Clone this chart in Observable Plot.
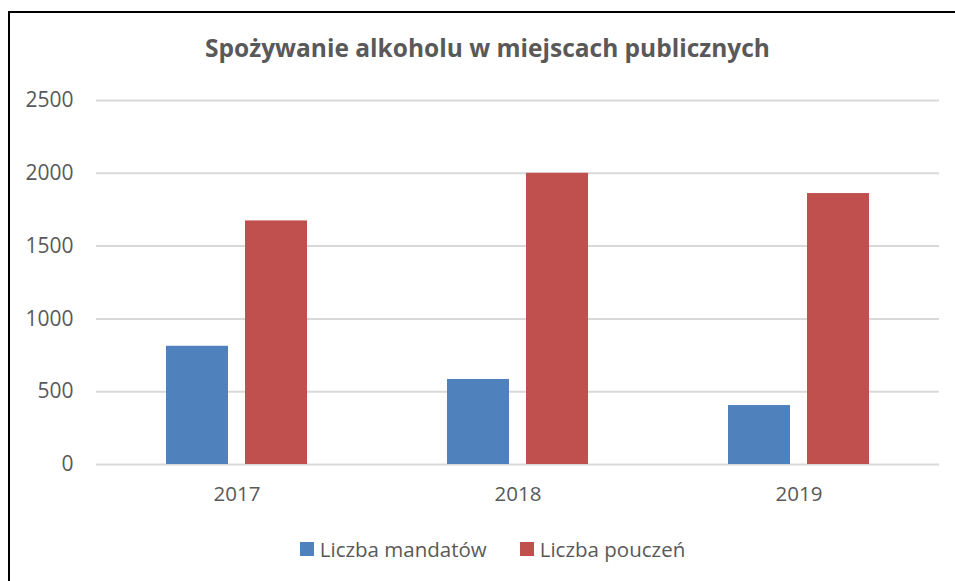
<!DOCTYPE html>
<html>
<head>
<meta charset="utf-8">
<script src="https://cdn.jsdelivr.net/npm/d3@7"></script>
<script src="https://cdn.jsdelivr.net/npm/@observablehq/plot@0.6"></script>
<style>
  html, body { margin: 0; padding: 0; background: #fff; }
  #wrap { position: relative; width: 955px; height: 581px; overflow: hidden; font-family: "Open Sans", sans-serif; color: #595959; }
  #frame { position: absolute; left: 8px; top: 11px; width: 1000px; height: 700px; border-left: 2px solid #000; border-top: 2px solid #000; box-sizing: border-box; }
  #title { position: absolute; top: 33px; left: 0; width: 975px; text-align: center; font-size: 24.5px; line-height: 30px; font-weight: bold; color: #595959; }
  #chart { position: absolute; left: 0; top: 0; }
  #legend { position: absolute; top: 534px; left: 0; width: 985px; display: flex; justify-content: center; gap: 33px; font-size: 20.5px; line-height: 30px; color: #595959; }
  .item { display: flex; align-items: center; gap: 6px; }
  .sw { width: 14px; height: 14px; display: inline-block; }
</style>
</head>
<body>
<div id="wrap">
  <div id="frame"></div>
  <div id="chart"></div>
  <div id="title">Spożywanie alkoholu w miejscach publicznych</div>
  <div id="legend"></div>
</div>
<script>
const years = ["2017", "2018", "2019"];
const series = ["Liczba mandatów", "Liczba pouczeń"];
const mandaty = [812, 584, 405];
const pouczenia = [1673, 2000, 1861];
const yTicks = [0, 500, 1000, 1500, 2000, 2500];
const colors = ["#4f81bd", "#c0504d"];

const data = [];
years.forEach((y, i) => {
  data.push({year: y, series: series[0], value: mandaty[i]});
  data.push({year: y, series: series[1], value: pouczenia[i]});
});

const chart = Plot.plot({
  width: 955,
  height: 520,
  marginTop: 100,
  marginBottom: 56,
  marginLeft: 96,
  marginRight: 16,
  style: {fontFamily: "'Open Sans', sans-serif", fontSize: "20px", color: "#595959", background: "transparent"},
  fx: {domain: years, paddingInner: 0, paddingOuter: 0, label: null, axis: null},
  x: {domain: series, paddingInner: 0.214, paddingOuter: 0.875, axis: null},
  y: {domain: [0, 2500], ticks: yTicks, label: null, axis: null},
  color: {domain: series, range: colors},
  marks: [
    Plot.gridY(yTicks, {stroke: "#d9d9d9", strokeOpacity: 1, strokeWidth: 2}),
    Plot.axisY(yTicks, {tickSize: 0, tickPadding: 23, label: null, fontSize: 21, fill: "#595959", tickFormat: d => String(d)}),
    Plot.axisFx({anchor: "bottom", tickSize: 0, tickPadding: 22, label: null, fontSize: 20.5, fill: "#595959"}),
    Plot.barY(data, {fx: "year", x: "series", y: "value", fill: "series"})
  ]
});
document.getElementById("chart").appendChild(chart);

const legend = document.getElementById("legend");
series.forEach((s, i) => {
  const it = document.createElement("div");
  it.className = "item";
  const sw = document.createElement("span");
  sw.className = "sw";
  sw.style.background = colors[i];
  const t = document.createElement("span");
  t.textContent = s;
  it.appendChild(sw);
  it.appendChild(t);
  legend.appendChild(it);
});
</script>
</body>
</html>
